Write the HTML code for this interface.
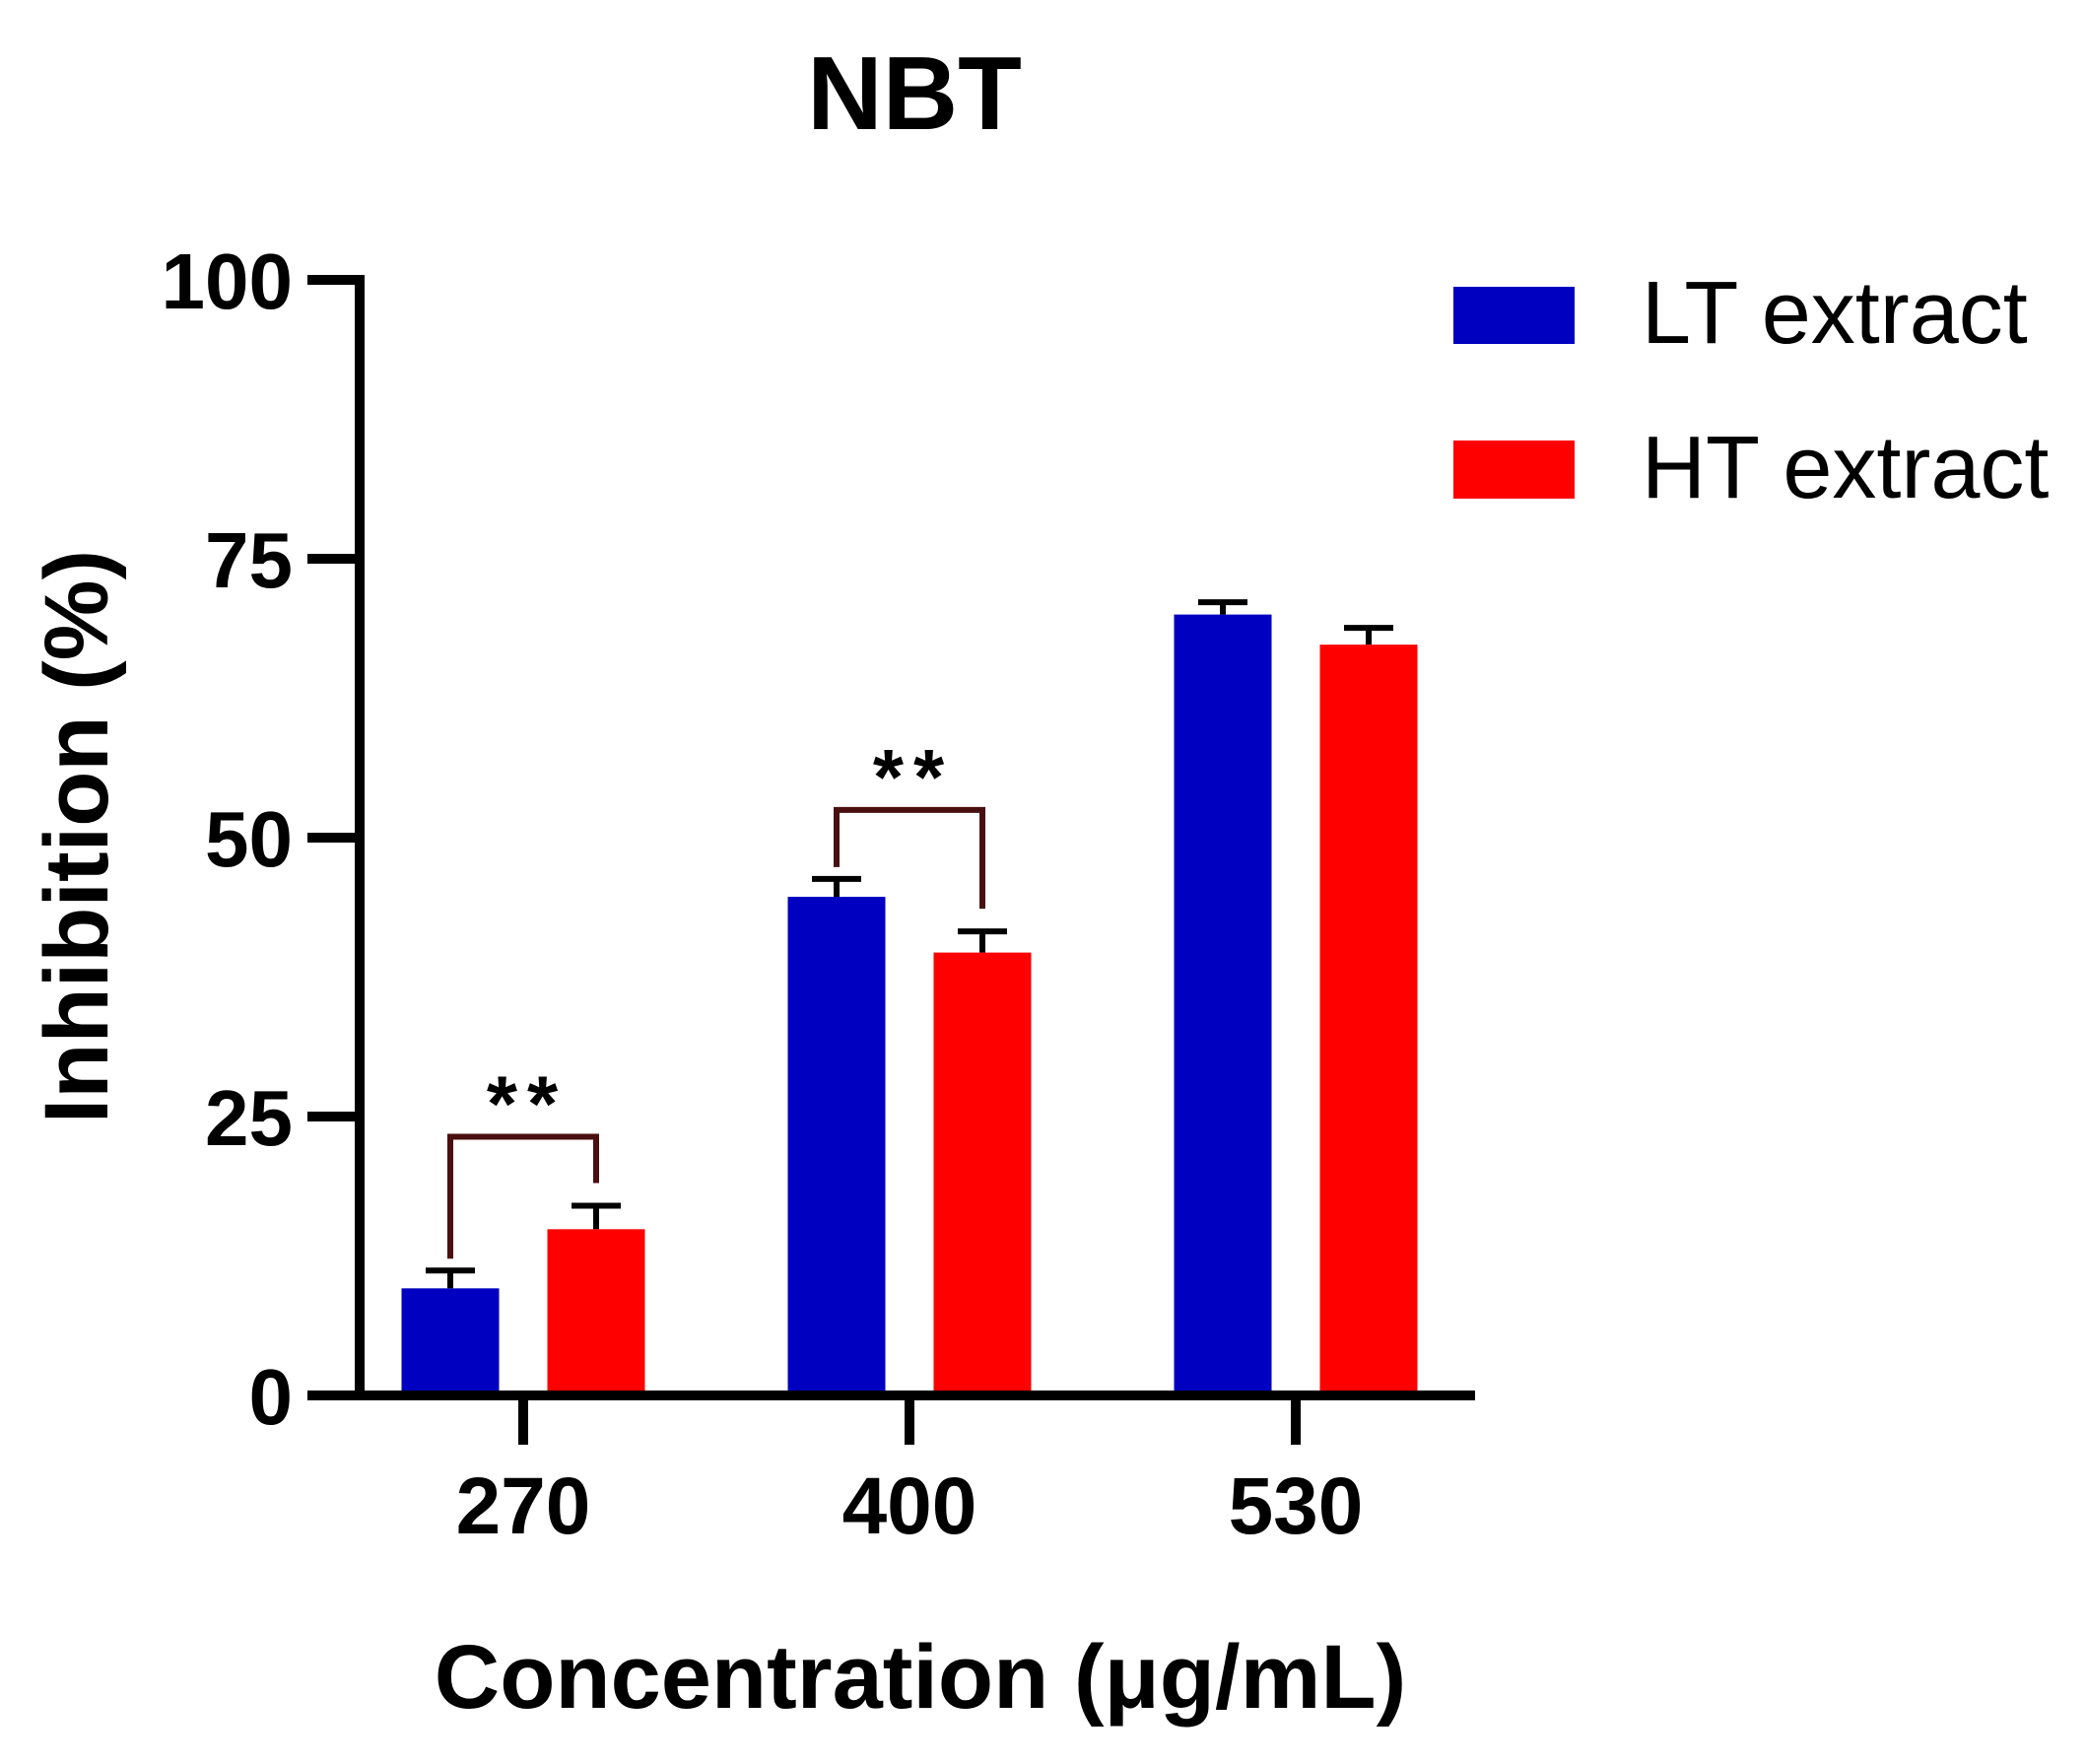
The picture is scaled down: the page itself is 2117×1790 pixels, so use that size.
<!DOCTYPE html>
<html><head><meta charset="utf-8"><style>
html,body{margin:0;padding:0;background:#fff;}
svg{display:block;font-family:"Liberation Sans",Arial,sans-serif;}
</style></head><body>
<svg id="chart" width="2117" height="1790" viewBox="0 0 2117 1790" xmlns="http://www.w3.org/2000/svg">
<text x="928" y="131" font-size="106" font-weight="bold" text-anchor="middle">NBT</text>
<g id="axes"></g>
<g id="bars"></g>
<text transform="translate(109,849) rotate(-90)" font-size="92" font-weight="bold" text-anchor="middle">Inhibition (%)</text>
<text x="934" y="1733" font-size="92" font-weight="bold" text-anchor="middle">Concentration (μg/mL)</text>
<g>
<rect x="1475" y="291" width="123" height="58" fill="#0000C0"/>
<text x="1666" y="348" font-size="90">LT extract</text>
<rect x="1475" y="447" width="123" height="59" fill="#FF0000"/>
<text x="1666" y="505" font-size="90">HT extract</text>
</g>
</svg>
<script>
const categories = ["270", "400", "530"];
const ltValues = [9.6, 44.7, 70.0];
const ltErrors = [1.6, 1.6, 1.1];
const htValues = [14.9, 39.7, 67.3];
const htErrors = [2.1, 1.9, 1.5];
const yTicks = [0, 25, 50, 75, 100];
const sigPairs = [0, 1];

const NS = "http://www.w3.org/2000/svg";
const y0 = 1416, y100 = 284;
function yScale(v){ return y0 - (y0 - y100) * v / 100; }
const xStart = 531, xStep = 392;
function xScale(i){ return xStart + i * xStep; }
function mk(tag, attrs, parent){
  const e = document.createElementNS(NS, tag);
  for (const k in attrs) e.setAttribute(k, attrs[k]);
  parent.appendChild(e); return e;
}
const axes = document.getElementById("axes");
const bars = document.getElementById("bars");

let yl = mk("line", {x1:365, y1:yScale(100)-5, x2:365, y2:y0+5, stroke:"#000", "stroke-width":10}, axes);


let xl = mk("line", {x1:312, y1:y0, x2:1497, y2:y0, stroke:"#000", "stroke-width":10}, axes);



yTicks.forEach(t => {
  const y = yScale(t);
  const tk = mk("line", {x1:312, y1:y, x2:365, y2:y, stroke:"#000", "stroke-width":10}, axes);
  
  
  const lb = mk("text", {x:297, y:y+29, "font-size":80, "font-weight":"bold", "text-anchor":"end"}, axes);
  lb.textContent = t;
  
  
});

const barW = 99, offset = 74;
categories.forEach((c, i) => {
  const cx = xScale(i);
  const tk = mk("line", {x1:cx, y1:y0, x2:cx, y2:y0+50, stroke:"#000", "stroke-width":10}, axes);
  
  
  const lb = mk("text", {x:cx, y:1556, "font-size":82, "font-weight":"bold", "text-anchor":"middle"}, axes);
  lb.textContent = c;
  
  

  [[ltValues, ltErrors, "#0000C0", -offset, "lt"], [htValues, htErrors, "#FF0000", offset, "ht"]].forEach(([vals, errs, col, off, nm]) => {
    const bx = cx + off;
    const top = yScale(vals[i]);
    const eTop = yScale(vals[i] + errs[i]);
    const el = mk("line", {x1:bx, y1:top, x2:bx, y2:eTop, stroke:"#000", "stroke-width":6}, bars);
    
    
    const cap = mk("line", {x1:bx-25, y1:eTop, x2:bx+25, y2:eTop, stroke:"#000", "stroke-width":6}, bars);
    
    
    const r = mk("rect", {x:bx-barW/2, y:top, width:barW, height:y0-5-top, fill:col}, bars);
    
    
  });
});

sigPairs.forEach(i => {
  const cx = xScale(i);
  const lx = cx - offset, rx = cx + offset;
  const lTop = yScale(ltValues[i] + ltErrors[i]), rTop = yScale(htValues[i] + htErrors[i]);
  const topY = Math.min(lTop, rTop) - 70;
  const p = mk("path", {d:`M${lx},${lTop-12} V${topY} H${rx} V${rTop-23}`, fill:"none", stroke:"#4A1010", "stroke-width":6}, bars);
  
  
  const s = mk("text", {x:cx+4, y:topY-6, "font-size":80, "font-weight":"bold", "text-anchor":"middle", "letter-spacing":10}, bars);
  s.textContent = "**";
  
  
});
</script>
</body></html>
